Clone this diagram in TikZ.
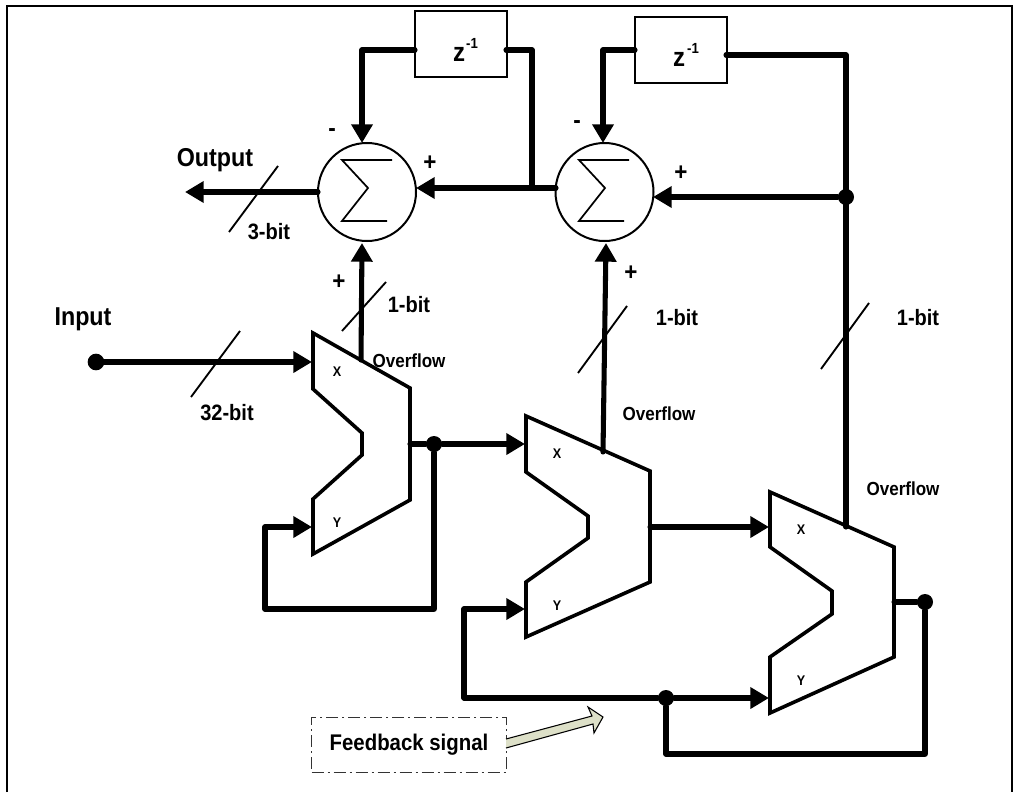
\documentclass[tikz,border=0pt]{standalone}
\usepackage{fontspec}
\setmainfont[FakeStretch=0.9]{Liberation Sans}
\usetikzlibrary{arrows.meta}
\definecolor{notefill}{HTML}{DDE0C8}
\tikzset{
  wire/.style={line width=3.8pt,line join=round,line cap=round},
  sigwire/.style={wire,-{Triangle[length=14pt,width=15.5pt]}},
  trap/.style={line width=2.7pt,line join=miter},
  slashmark/.style={line width=1.4pt},
  sumnode/.style={circle,draw,line width=1.5pt,minimum size=73.5pt,inner sep=0pt},
  sigma/.style={line width=1.3pt,line join=miter},
  delaybox/.style={rectangle,draw,line width=1.4pt,inner sep=0pt,minimum width=69pt,minimum height=49.5pt},
  junction/.style={circle,fill=black,inner sep=0pt,minimum size=12pt},
  big/.style={inner sep=0pt,font=\fontsize{19.4}{22}\selectfont\bfseries},
  mid/.style={inner sep=0pt,font=\fontsize{16.7}{19}\selectfont\bfseries},
  ovf/.style={inner sep=0pt,font=\fontsize{14.2}{17}\selectfont\bfseries},
  port/.style={inner sep=0pt,font=\fontsize{10.5}{12}\selectfont\bfseries},
  zlabel/.style={inner sep=0pt,font=\fontsize{20}{22}\selectfont\bfseries},
  zsup/.style={inner sep=0pt,font=\fontsize{11}{13}\selectfont\bfseries},
  sign/.style={inner sep=0pt,font=\fontsize{18.7}{21}\selectfont\bfseries},
  notebox/.style={rectangle,draw=black!80,line width=1.1pt,dash pattern=on 9pt off 3pt on 1.5pt off 3pt,minimum width=146pt,minimum height=41.25pt,inner sep=0pt,font=\fontsize{17}{19}\selectfont\bfseries},
}
\begin{document}
\begin{tikzpicture}[x=0.75pt,y=-0.75pt]
\useasboundingbox (0,0) rectangle (1013,792);
\fill[white] (0,0) rectangle (1013,792);
% frame
\draw[line width=1.9pt,line join=miter] (7,792) -- (7,6) -- (1012,6) -- (1012,792);

% summers and delays
\node[sumnode] (s1) at (367,192) {};
\node[sumnode] (s2) at (604.5,192) {};
\draw[sigma] (392,160) -- (342,160) -- (368,188) -- (342,221) -- (387,221);
\draw[sigma] (629,160) -- (579,160) -- (605,188) -- (579,221) -- (624,221);
\node[delaybox] (z1) at (461,44) {};
\node[delaybox] (z2) at (681,50) {};
\node[zlabel] (zt1) at (459,54) {z};
\node[zsup] (zs1) at (472,43) {-1};
\node[zlabel] (zt2) at (679,59) {z};
\node[zsup] (zs2) at (693,48) {-1};

% adders (shapes)
\draw[trap] (313,333) -- (410,388) -- (410,500) -- (313,554) -- (313,499) -- (362,455) -- (362,433) -- (313,389) -- cycle;
\draw[trap] (526,416) -- (650,471) -- (650,582) -- (526,637) -- (526,582) -- (588,538) -- (588,516) -- (526,472) -- cycle;
\draw[trap] (770,492) -- (894,547) -- (894,657) -- (770,713) -- (770,657) -- (832,614) -- (832,591) -- (770,547) -- cycle;

% named ports
\coordinate (a1x) at (312,362);
\coordinate (a1y) at (312,527);
\coordinate (a1o) at (410,444);
\coordinate (a1c) at (361,360);
\coordinate (a2x) at (525,444);
\coordinate (a2y) at (525,609);
\coordinate (a2o) at (650,527);
\coordinate (a2c) at (603,452);
\coordinate (a3x) at (769,527);
\coordinate (a3y) at (769,698);
\coordinate (a3o) at (894,602);
\coordinate (a3c) at (846,527);
\coordinate (s1in) at (416,188);
\coordinate (s1top) at (362,143);
\coordinate (s1bot) at (362,243);
\coordinate (s1out) at (318,192);
\coordinate (s2in) at (653,197);
\coordinate (s2top) at (603,143);
\coordinate (s2bot) at (606,243);
\coordinate (s2out) at (556,188);
\coordinate (z1l) at (415,50);
\coordinate (z1r) at (506,50);
\coordinate (z2l) at (635,50);
\coordinate (z2r) at (726,55);
\coordinate (outEnd) at (185,192);
\coordinate (cA) at (532,188);

% junctions
\node[junction,minimum size=12.5pt] (jin) at (96,362) {};
\node[junction] (j1) at (434,444) {};
\node[junction] (j3) at (925,602) {};
\node[junction] (jf) at (666,698) {};
\node[junction] (jtop) at (846,197) {};

% connectors
\draw[sigwire] (jin) -- (a1x);
\draw[sigwire] (s1out) -- (outEnd);
\draw[sigwire] (a1c) -- (s1bot);
\draw[sigwire] (a2c) -- (s2bot);
\draw[sigwire] (s2out) -- (s1in);
\draw[wire] (z1r) -- (532,50) -- (cA);
\draw[sigwire] (z1l) -- (362,50) -- (s1top);
\draw[sigwire] (z2l) -- (603,50) -- (s2top);
\draw[wire] (z2r) -- (846,55) -- (a3c);
\draw[sigwire] (jtop) -- (s2in);
\draw[wire] (a1o) -- (j1);
\draw[sigwire] (j1) -- (a2x);
\draw[sigwire] (j1) -- (434,609) -- (265,609) -- (265,527) -- (a1y);
\draw[sigwire] (a2o) -- (a3x);
\draw[wire] (a3o) -- (j3);
\draw[wire] (j3) -- (925,754) -- (666,754) -- (jf);
\draw[wire] (464,698) -- (jf);
\draw[sigwire] (jf) -- (a3y);
\draw[sigwire] (464,698) -- (464,609) -- (a2y);

% bus width marks
\draw[slashmark] (278,166) -- (229,232);
\draw[slashmark] (240,331) -- (191,397);
\draw[slashmark] (386,282) -- (342,331);
\draw[slashmark] (627,306) -- (578,373);
\draw[slashmark] (869,303) -- (821,369);

% labels
\node[big] (lo) at (215,160) {Output};
\node[big] (li) at (83,319) {Input};
\node[mid] (b3) at (269,232) {3-bit};
\node[mid] (b32) at (227,413) {32-bit};
\node[mid] (b1a) at (409,305) {1-bit};
\node[mid] (b1b) at (677,318) {1-bit};
\node[mid] (b1c) at (918,318) {1-bit};
\node[ovf] (o1) at (409,361) {Overflow};
\node[ovf] (o2) at (659,414) {Overflow};
\node[ovf] (o3) at (903,489) {Overflow};
\node[port] (x1) at (337,372) {X};
\node[port] (y1) at (337,523) {Y};
\node[port] (x2) at (557,454) {X};
\node[port] (y2) at (557,606) {Y};
\node[port] (x3) at (801,530) {X};
\node[port] (y3) at (801,681) {Y};
\node[sign] (m1) at (332,133) {-};
\node[sign] (m2) at (577,125) {-};
\node[sign] (p1) at (430,163) {+};
\node[sign] (p2) at (681,173) {+};
\node[sign] (p3) at (339,282) {+};
\node[sign] (p4) at (631,273) {+};

% feedback note
\node[notebox] (fb) at (409,745) {Feedback signal};
\draw[line width=0.8pt,fill=notefill,line join=miter] (506,739) -- (592,716) -- (588,707) -- (603,717) -- (594,733) -- (593,724) -- (506,748);
\end{tikzpicture}
\end{document}
